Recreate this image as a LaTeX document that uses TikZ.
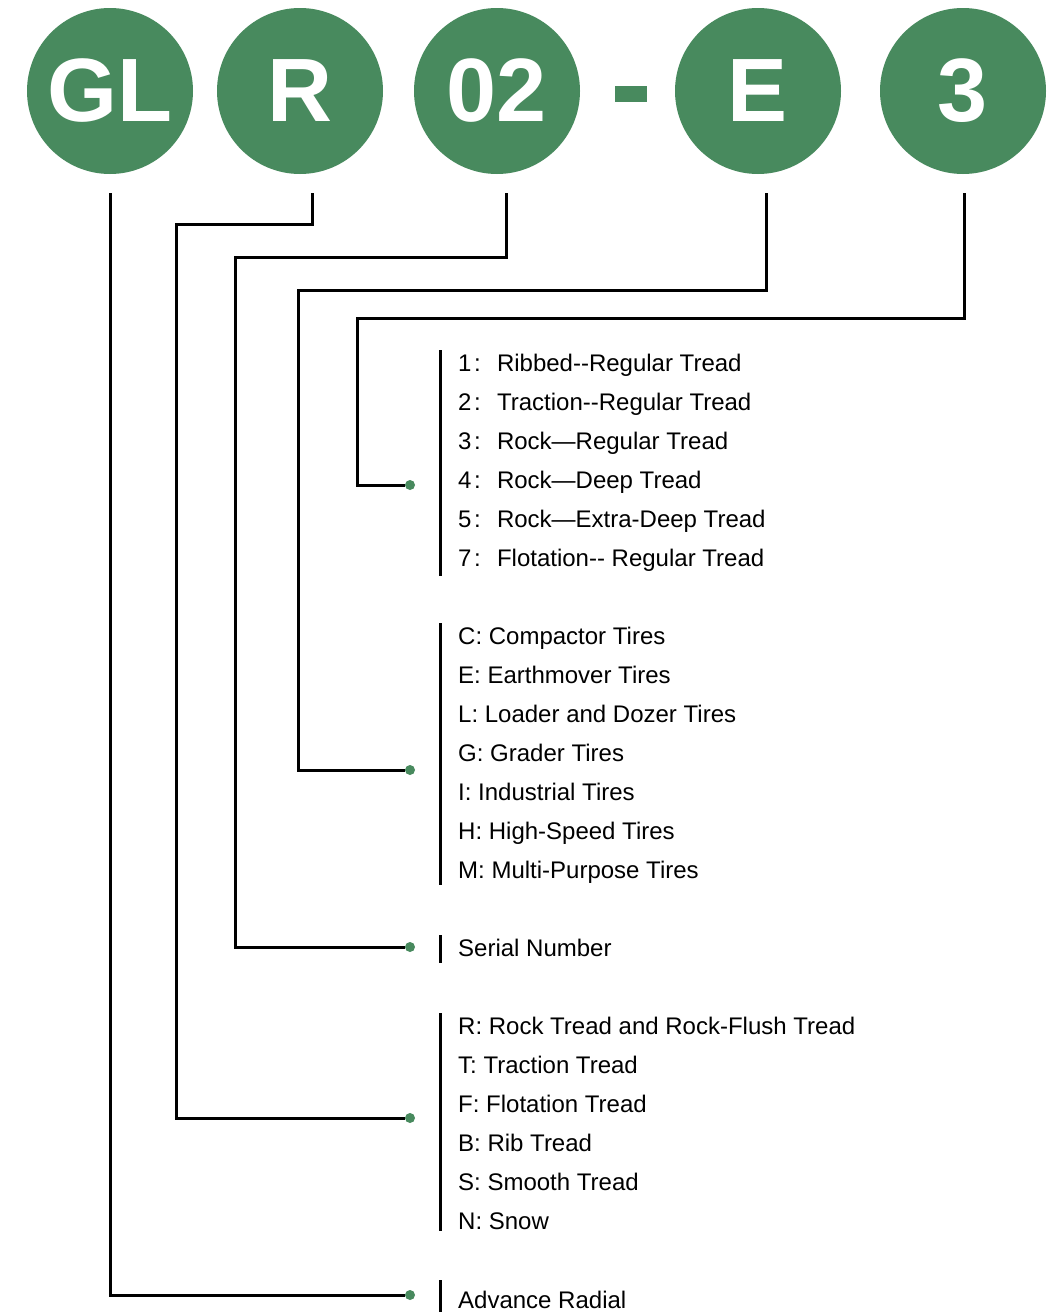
\documentclass[tikz,border=0pt]{standalone}
\usepackage{fontspec}
\setmainfont{Liberation Sans}
\usetikzlibrary{positioning}
\definecolor{codegreen}{RGB}{72,138,94}

\begin{document}
\begin{tikzpicture}[x=1pt, y=-1pt,
				badge/.style={circle, fill=codegreen, minimum size=166pt, inner sep=0pt, text=white, font=\fontsize{90}{90}\selectfont\bfseries},
				item/.style={anchor=west, inner sep=0pt, text height=18pt, text depth=6pt, font=\fontsize{24}{28}\selectfont},
				pin/.style={circle, fill=codegreen, minimum size=10pt, inner sep=0pt},
				link/.style={draw, line width=3pt},
				bar/.style={draw, line width=3pt}
				]
				\useasboundingbox (0,0) rectangle (1048,1312);
				
				% code letters
				\node[badge] (gl) at (110,91) {GL};
				\node[badge] (r) at (300,91) {R};
				\node[badge] (num) at (497,91) {02};
				\node[fill=codegreen, minimum width=32pt, minimum height=16pt, inner sep=0pt] (dash) at (631,94) {};
				\node[badge] (e) at (758,91) {E};
				\node[badge] (three) at (963,91) {3};
				
				\coordinate (gltop) at (110,193);
				\coordinate (rtop) at (312,193);
				\coordinate (numtop) at (506,193);
				\coordinate (etop) at (766,193);
				\coordinate (threetop) at (964,193);
				
				% tread design
				\node[item] (t1) at (458,365.5) {1\makebox[25.5pt][l]{\hspace{2.5pt}:}Ribbed{-}{-}Regular Tread};
				\node[item, below=14.6pt of t1.south west, anchor=north west] (t2) {2\makebox[25.5pt][l]{\hspace{2.5pt}:}Traction{-}{-}Regular Tread};
				\node[item, below=14.6pt of t2.south west, anchor=north west] (t3) {3\makebox[25.5pt][l]{\hspace{2.5pt}:}Rock—Regular Tread};
				\node[item, below=14.6pt of t3.south west, anchor=north west] (t4) {4\makebox[25.5pt][l]{\hspace{2.5pt}:}Rock—Deep Tread};
				\node[item, below=14.6pt of t4.south west, anchor=north west] (t5) {5\makebox[25.5pt][l]{\hspace{2.5pt}:}Rock—Extra-Deep Tread};
				\node[item, below=14.6pt of t5.south west, anchor=north west] (t6) {7\makebox[25.5pt][l]{\hspace{2.5pt}:}Flotation{-}{-} Regular Tread};
				
				% application
				\node[item] (c1) at (458,638.5) {C: Compactor Tires};
				\node[item, below=14.6pt of c1.south west, anchor=north west] (c2) {E: Earthmover Tires};
				\node[item, below=14.6pt of c2.south west, anchor=north west] (c3) {L: Loader and Dozer Tires};
				\node[item, below=14.6pt of c3.south west, anchor=north west] (c4) {G: Grader Tires};
				\node[item, below=14.6pt of c4.south west, anchor=north west] (c5) {I: Industrial Tires};
				\node[item, below=14.6pt of c5.south west, anchor=north west] (c6) {H: High-Speed Tires};
				\node[item, below=14.6pt of c6.south west, anchor=north west] (c7) {M: Multi-Purpose Tires};
				
				% serial
				\node[item] (s1) at (458,950.5) {Serial Number};
				
				% pattern
				\node[item] (p1) at (458,1028.5) {R: Rock Tread and Rock-Flush Tread};
				\node[item, below=14.6pt of p1.south west, anchor=north west] (p2) {T: Traction Tread};
				\node[item, below=14.6pt of p2.south west, anchor=north west] (p3) {F: Flotation Tread};
				\node[item, below=14.6pt of p3.south west, anchor=north west] (p4) {B: Rib Tread};
				\node[item, below=14.6pt of p4.south west, anchor=north west] (p5) {S: Smooth Tread};
				\node[item, below=14.6pt of p5.south west, anchor=north west] (p6) {N: Snow};
				
				% structure
				\node[item] (a1) at (458,1302.5) {Advance Radial};
				
				\draw[bar] ([xshift=-18pt,yshift=3pt]t1.north west) -- ([xshift=-18pt,yshift=-3pt]t6.south west);
				\draw[bar] ([xshift=-18pt,yshift=3pt]c1.north west) -- ([xshift=-18pt]c7.south west);
				\draw[bar] ([xshift=-18pt,yshift=3pt]s1.north west) -- ([xshift=-18pt]s1.south west);
				\draw[bar] ([xshift=-18pt,yshift=3pt]p1.north west) -- ([xshift=-18pt,yshift=5pt]p6.south west);
				\draw[bar] ([xshift=-18pt,yshift=10pt]a1.north west) -- ([xshift=-18pt,yshift=-12pt]a1.south west);
				
				% end points
				\node[pin] (pinthree) at (410,485) {};
				\node[pin] (pine) at (410,770) {};
				\node[pin] (pinnum) at (410,947) {};
				\node[pin] (pinr) at (410,1118) {};
				\node[pin] (pingl) at (410,1295) {};
				
				\draw[link] (threetop) -- ++(0,125) -| ([xshift=-53pt]pinthree.center) -- (pinthree);
				\draw[link] (etop) -- ++(0,97) -| ([xshift=-112pt]pine.center) -- (pine);
				\draw[link] (numtop) -- ++(0,64) -| ([xshift=-175pt]pinnum.center) -- (pinnum);
				\draw[link] (rtop) -- ++(0,31) -| ([xshift=-234pt]pinr.center) -- (pinr);
				\draw[link] (gltop) |- (pingl);
			\end{tikzpicture}
\end{document}
